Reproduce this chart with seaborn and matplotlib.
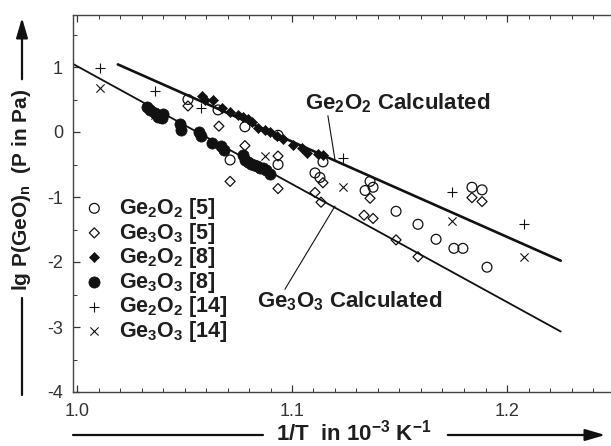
import numpy as np
import pandas as pd
import matplotlib.pyplot as plt
import seaborn as sns
from matplotlib.ticker import MultipleLocator, FormatStrFormatter

# Data (x = 1/T in 10^-3 K^-1, y = lg P)
ge2o2_5_x = [1.0516, 1.0656, 1.0781, 1.0935, 1.0712, 1.0935, 1.1144, 1.1107, 1.1130, 1.1363,
             1.1340, 1.1377, 1.1484, 1.1586, 1.1670, 1.1753, 1.1795, 1.1837, 1.1884, 1.1907]
ge2o2_5_y = [0.50, 0.34, 0.08, -0.05, -0.43, -0.50, -0.46, -0.63, -0.70, -0.76,
             -0.90, -0.85, -1.22, -1.42, -1.65, -1.79, -1.79, -0.85, -0.89, -2.08]

ge3o3_5_x = [1.0516, 1.0660, 1.0781, 1.0935, 1.0712, 1.0935, 1.1144, 1.1107, 1.1135, 1.1363,
             1.1335, 1.1377, 1.1484, 1.1586, 1.1837, 1.1884]
ge3o3_5_y = [0.40, 0.09, -0.21, -0.37, -0.76, -0.87, -0.78, -0.93, -1.08, -1.02,
             -1.28, -1.33, -1.66, -1.92, -1.01, -1.07]

ge2o2_8_x = [1.0581, 1.0595, 1.0633, 1.0674, 1.0712, 1.0749, 1.0772, 1.0795, 1.0814, 1.0842,
             1.0874, 1.0898, 1.0930, 1.0958, 1.1005, 1.1047, 1.1070, 1.1121, 1.1144]
ge2o2_8_y = [0.55, 0.49, 0.49, 0.37, 0.31, 0.26, 0.23, 0.20, 0.15, 0.06,
             0.03, 0.00, -0.06, -0.11, -0.20, -0.24, -0.32, -0.34, -0.35]

ge3o3_8_x = [1.0326, 1.0340, 1.0363, 1.0377, 1.0395, 1.0400, 1.0479, 1.0484, 1.0567, 1.0577,
             1.0628, 1.0670, 1.0684, 1.0772, 1.0781, 1.0795, 1.0809, 1.0823, 1.0837, 1.0851,
             1.0865, 1.0879, 1.0898]
ge3o3_8_y = [0.38, 0.34, 0.29, 0.23, 0.21, 0.27, 0.12, 0.03, 0.00, -0.06,
             -0.17, -0.21, -0.27, -0.35, -0.43, -0.46, -0.49, -0.50, -0.53, -0.55,
             -0.56, -0.58, -0.64]

ge2o2_14_x = [1.0107, 1.0363, 1.0577, 1.1237, 1.1744, 1.2079]
ge2o2_14_y = [0.99, 0.63, 0.37, -0.40, -0.93, -1.42]

ge3o3_14_x = [1.0107, 1.0363, 1.0874, 1.1237, 1.1744, 1.2079]
ge3o3_14_y = [0.67, 0.26, -0.37, -0.84, -1.37, -1.92]

# calculated lines (end points)
calc_ge2o2_x = [1.019, 1.225]
calc_ge2o2_y = [1.04, -1.98]
calc_ge3o3_x = [0.998, 1.225]
calc_ge3o3_y = [1.05, -3.07]

sns.set_style("ticks")
plt.rcParams['font.family'] = ['Liberation Sans', 'DejaVu Sans']
plt.rcParams['mathtext.fontset'] = 'custom'
plt.rcParams['mathtext.rm'] = 'Liberation Sans:bold'
plt.rcParams['mathtext.bf'] = 'Liberation Sans:bold'
plt.rcParams['mathtext.default'] = 'rm'
plt.rcParams['axes.unicode_minus'] = False

fig = plt.figure(figsize=(6.11, 4.46), dpi=100)
ax = fig.add_axes([72.7 / 611, 54 / 446, 541.8 / 611, 377 / 446])

ink = '#111111'
txt = '#1e1e1e'

# calculated lines
sns.lineplot(x=calc_ge2o2_x, y=calc_ge2o2_y, ax=ax, color=ink, lw=1.9)
sns.lineplot(x=calc_ge3o3_x, y=calc_ge3o3_y, ax=ax, color=ink, lw=1.3)

sns.scatterplot(x=ge2o2_5_x, y=ge2o2_5_y, ax=ax, marker='o', s=50, color=ink,
                facecolor='none', edgecolor=ink, linewidth=0.9, label=r'Ge$_2$O$_2$ [5]')
sns.scatterplot(x=ge3o3_5_x, y=ge3o3_5_y, ax=ax, marker='D', s=26, color=ink,
                facecolor='none', edgecolor=ink, linewidth=0.9, label=r'Ge$_3$O$_3$ [5]')
sns.scatterplot(x=ge2o2_8_x, y=ge2o2_8_y, ax=ax, marker='D', s=26, color=ink,
                edgecolor=ink, linewidth=0.5, label=r'Ge$_2$O$_2$ [8]')
sns.scatterplot(x=ge3o3_8_x, y=ge3o3_8_y, ax=ax, marker='o', s=65, color=ink,
                edgecolor=ink, linewidth=0.5, label=r'Ge$_3$O$_3$ [8]')
sns.scatterplot(x=ge2o2_14_x, y=ge2o2_14_y, ax=ax, marker='+', s=45, color=ink,
                linewidth=0.8, label=r'Ge$_2$O$_2$ [14]')
sns.scatterplot(x=ge3o3_14_x, y=ge3o3_14_y, ax=ax, marker='x', s=35, color=ink,
                linewidth=0.8, label=r'Ge$_3$O$_3$ [14]')

ax.set_xlim(0.998, 1.25)
ax.set_ylim(-4, 1.8)
ax.xaxis.set_major_locator(MultipleLocator(0.1))
ax.xaxis.set_minor_locator(MultipleLocator(0.01))
ax.xaxis.set_major_formatter(FormatStrFormatter('%.1f'))
ax.yaxis.set_major_locator(MultipleLocator(1))
ax.yaxis.set_minor_locator(MultipleLocator(0.5))
ax.tick_params(which='both', direction='in', top=True, right=False, color='#333333',
               labelsize=13, labelcolor='#333333')
ax.tick_params(which='major', length=5, width=0.9)
ax.tick_params(which='minor', length=3, width=0.7)
ax.tick_params(axis='x', pad=8)
ax.tick_params(axis='y', pad=7)
for sp in ax.spines.values():
    sp.set_color('#444444')
    sp.set_linewidth(1.0)
ax.set_xlabel('')
ax.set_ylabel('')

leg = ax.legend(loc='upper left', bbox_to_anchor=(0.022, 0.52), frameon=False,
                borderaxespad=0, borderpad=0, handlelength=0.9, handletextpad=0.7,
                labelspacing=-0.02, scatterpoints=1, prop={'size': 15.5, 'weight': 'bold'})
for t in leg.get_texts():
    t.set_color(txt)

# annotations for calculated lines
ax.text(1.106, 0.45, r'Ge$_2$O$_2$ Calculated', fontsize=16, fontweight='bold',
        color=txt, ha='left', va='center')
ax.plot([1.1167, 1.120], [0.25, -0.43], color=ink, lw=0.8)
ax.text(1.0837, -2.60, r'Ge$_3$O$_3$ Calculated', fontsize=16, fontweight='bold',
        color=txt, ha='left', va='center')
ax.plot([1.0967, 1.120], [-2.42, -1.14], color=ink, lw=0.8)

# axis labels with arrows
fig.text(354 / 611, 13 / 446, r'1/T  in 10$^{-3}$ K$^{-1}$', fontsize=16, fontweight='bold',
         color=txt, ha='center', va='center')
fig.add_artist(plt.Line2D([73 / 611, 263 / 611], [11 / 446, 11 / 446], color=ink, lw=1.6))
ax.annotate('', xy=(608, 11), xytext=(445, 11), xycoords='figure pixels',
            textcoords='figure pixels',
            arrowprops=dict(arrowstyle='-|>,head_length=1.2,head_width=0.35', color=ink, lw=1.6))

fig.text(22 / 611, 256 / 446, r'lg P(GeO)$_n$  (P in Pa)', fontsize=15, fontweight='bold',
         color=txt, ha='center', va='center', rotation=90)
fig.add_artist(plt.Line2D([22 / 611, 22 / 611], [51 / 446, 148 / 446], color=ink, lw=1.6))
ax.annotate('', xy=(22, 431), xytext=(22, 364), xycoords='figure pixels',
            textcoords='figure pixels',
            arrowprops=dict(arrowstyle='-|>,head_length=1.2,head_width=0.35', color=ink, lw=1.6))

fig.savefig('out.png', dpi=100)
